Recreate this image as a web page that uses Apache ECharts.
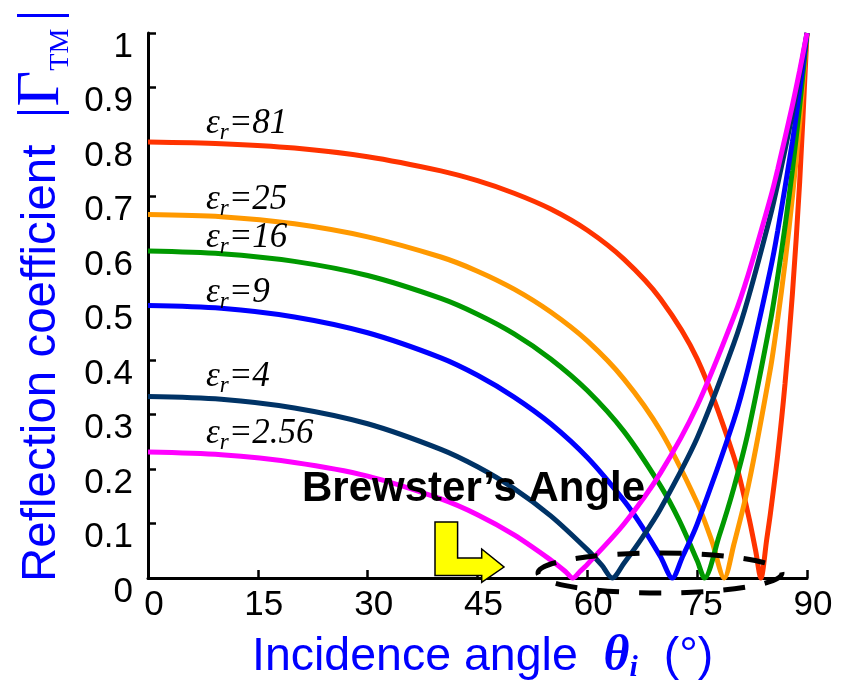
<!DOCTYPE html>
<html><head><meta charset="utf-8">
<script src="https://cdn.jsdelivr.net/npm/echarts@6/dist/echarts.min.js"></script>
<style>html,body{margin:0;padding:0;background:#fff}#c{width:844px;height:684px}</style>
</head><body><div id="c"></div>
<script>
// ---- data ----
const xTickValues = [0, 15, 30, 45, 60, 75, 90];
const yTickValues = [0, 0.1, 0.2, 0.3, 0.4, 0.5, 0.6, 0.7, 0.8, 0.9, 1];
const seriesNames = ['εr=81', 'εr=25', 'εr=16', 'εr=9', 'εr=4', 'εr=2.56'];
const labelValues = ['81', '25', '16', '9', '4', '2.56'];

const er81 = [[0,0.800],[10,0.797],[20,0.789],[30,0.773],[40,0.747],[45,0.729],[50,0.706],[55,0.677],[60,0.638],[65,0.585],[70,0.512],[75,0.402],[80,0.223],[82,0.115],[83,0.049],[83.7,0],[84.5,0.071],[85,0.118],[86,0.226],[87,0.357],[88,0.520],[89,0.727],[90,1]];
const er25 = [[0,0.667],[10,0.663],[20,0.650],[30,0.626],[40,0.589],[45,0.563],[50,0.530],[55,0.488],[60,0.435],[65,0.365],[70,0.270],[75,0.138],[77,0.068],[78.7,0],[80,0.061],[82,0.170],[85,0.384],[86,0.475],[87,0.578],[88,0.698],[89,0.836],[90,1]];
const er16 = [[0,0.600],[10,0.595],[20,0.581],[30,0.555],[40,0.513],[45,0.484],[50,0.448],[55,0.402],[60,0.344],[65,0.269],[70,0.169],[72.5,0.107],[75,0.032],[76,0],[78,0.077],[80,0.165],[82,0.270],[85,0.471],[86,0.553],[87,0.645],[88,0.748],[89,0.866],[90,1]];
const er9 = [[0,0.500],[10,0.495],[20,0.479],[30,0.450],[40,0.404],[45,0.372],[50,0.332],[55,0.283],[60,0.221],[65,0.142],[67.5,0.094],[70,0.039],[71.6,0],[73,0.039],[75,0.099],[80,0.289],[82,0.387],[85,0.566],[86,0.637],[88,0.800],[89,0.895],[90,1]];
const er4 = [[0,0.333],[10,0.328],[20,0.312],[30,0.283],[40,0.236],[45,0.204],[50,0.164],[55,0.114],[60,0.052],[62,0.023],[63.4,0],[65,0.027],[67.5,0.074],[70,0.127],[75,0.257],[80,0.430],[82,0.515],[85,0.665],[86,0.723],[88,0.851],[89,0.923],[90,1]];
const er256 = [[0,0.231],[10,0.226],[20,0.212],[30,0.187],[40,0.145],[45,0.116],[50,0.079],[55,0.033],[57,0.012],[58,0],[59,0.012],[60,0.025],[65,0.099],[70,0.193],[75,0.316],[80,0.479],[82,0.558],[85,0.697],[86,0.750],[88,0.867],[89,0.931],[90,1]];

const seriesData = [er81, er25, er16, er9, er4, er256];

// ---- styles ----
const colors = ['#FF3300', '#FF9900', '#009900', '#0000FF', '#003366', '#FF00FF'];
const labelY = [124, 200, 238, 293, 377, 434];

const chart = echarts.init(document.getElementById('c'), null, {renderer: 'canvas'});

const serif = "'Liberation Serif', 'Times New Roman', serif";
const sans = "'Liberation Sans', Arial, sans-serif";

const epsLabels = labelValues.map((v, i) => ({
  type: 'text', x: 206, y: labelY[i], z: 50,
  style: {
    text: '{e|ε}{r|r}{e|=' + v + '}',
    align: 'left', verticalAlign: 'middle',
    rich: {
      e: {fontFamily: serif, fontStyle: 'italic', fontSize: 35, fill: '#000'},
      r: {fontFamily: serif, fontStyle: 'italic', fontSize: 23, fill: '#000', padding: [18, 0, 0, 0]}
    }
  }
}));

const option = {
  animation: false,
  backgroundColor: '#fff',
  grid: {left: 148, right: 37, top: 33, bottom: 106, containLabel: false},
  xAxis: {
    type: 'value', min: 0, max: 90, interval: 15,
    axisLine: {lineStyle: {color: '#000', width: 3}},
    axisTick: {inside: true, length: 8, lineStyle: {color: '#000', width: 2.5}},
    splitLine: {show: false},
    axisLabel: {color: '#000', fontSize: 35, fontFamily: sans, margin: 10, padding: [0, 0, 0, 12]}
  },
  yAxis: {
    type: 'value', min: 0, max: 1, interval: 0.1,
    axisLine: {show: true, lineStyle: {color: '#000', width: 3}},
    axisTick: {show: true, inside: true, length: 8, lineStyle: {color: '#000', width: 2.5}},
    splitLine: {show: false},
    axisLabel: {color: '#000', fontSize: 35, fontFamily: sans, margin: 15, verticalAlign: 'top', lineHeight: 28}
  },
  series: seriesData.map((d, i) => ({
    name: seriesNames[i], type: 'line', data: d,
    showSymbol: false, symbol: 'none', smooth: 0.3, clip: false,
    lineStyle: {color: colors[i], width: 5},
    z: 2 + i
  })),
  graphic: [
    ...epsLabels,
    {
      type: 'text', x: 302, y: 489, z: 50,
      style: {text: 'Brewster’s Angle', fontFamily: sans, fontWeight: 'bold', fontSize: 42, fill: '#000', align: 'left', verticalAlign: 'middle'}
    },
    {
      type: 'polygon', z: 50,
      shape: {points: [[435,522],[457.6,522],[457.6,558],[481.7,558],[481.7,549],[504,567],[481.7,582.4],[481.7,575.5],[435,575.5]]},
      style: {fill: '#FFFF00', stroke: '#000', lineWidth: 1.5}
    },
    {
      type: 'ellipse', z: 60,
      shape: {cx: 660, cy: 573, rx: 122, ry: 20},
      style: {fill: null, stroke: '#000', lineWidth: 5, lineDash: [22, 20]}
    },
    {
      type: 'text', x: 252, y: 657, z: 50,
      style: {
        text: '{a|Incidence angle  }{t|θ}{s|i}{a|  (°)}',
        align: 'left', verticalAlign: 'middle',
        rich: {
          a: {fontFamily: sans, fontSize: 46.5, fill: '#0000FF'},
          t: {fontFamily: serif, fontStyle: 'italic', fontWeight: 'bold', fontSize: 50, fill: '#0000FF'},
          s: {fontFamily: serif, fontStyle: 'italic', fontWeight: 'bold', fontSize: 30, fill: '#0000FF', padding: [22, 0, 0, 0]}
        }
      }
    },
    {
      type: 'text', x: 42, y: 582, rotation: Math.PI / 2, z: 50,
      style: {
        text: '{a|Reflection coefficient  }{g||}{G|Γ}{s|TM}{sp| }{g||}',
        align: 'left', verticalAlign: 'middle',
        rich: {
          a: {fontFamily: sans, fontSize: 47.5, fill: '#0000FF'},
          g: {fontFamily: serif, fontSize: 58, fill: '#0000FF'},
          G: {fontFamily: serif, fontSize: 62, fill: '#0000FF'},
          sp: {fontFamily: serif, fontSize: 30, fill: '#0000FF'},
          s: {fontFamily: serif, fontSize: 28, fill: '#0000FF', padding: [37, 0, 0, 0]}
        }
      }
    }
  ]
};
chart.setOption(option);
</script>
</body></html>
